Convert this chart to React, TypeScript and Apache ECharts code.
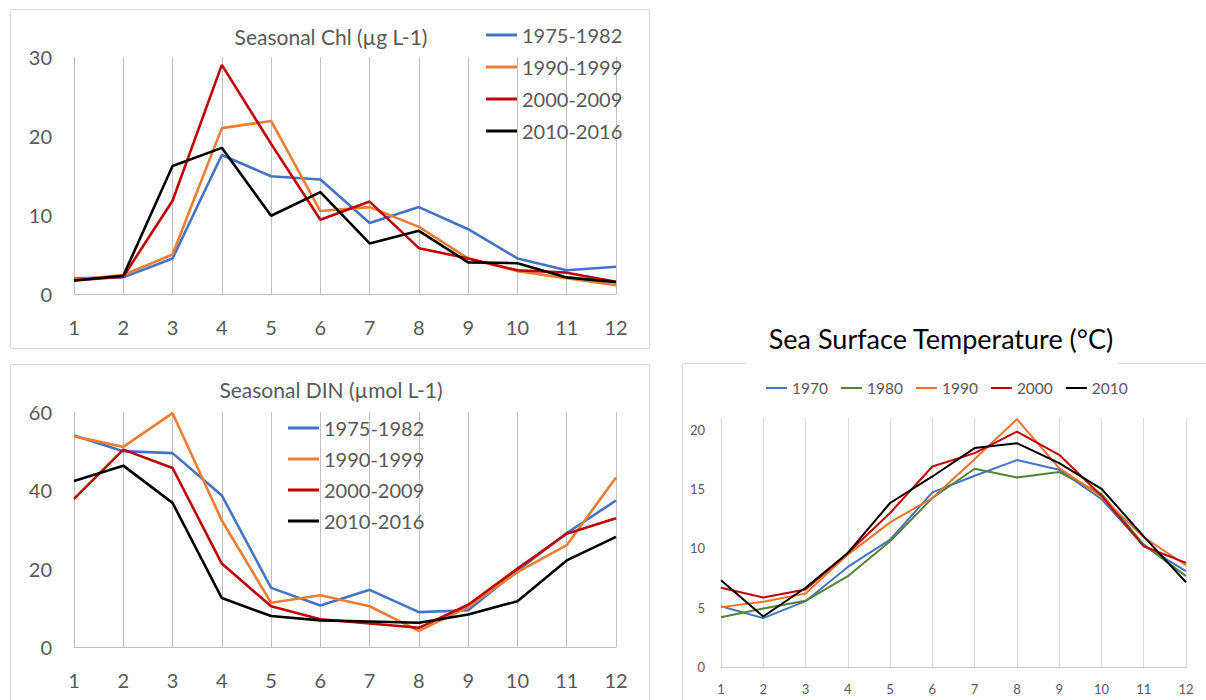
import React, { useEffect, useRef } from "react";
import * as echarts from "echarts";

const months = ["1", "2", "3", "4", "5", "6", "7", "8", "9", "10", "11", "12"];

const periodNames = ["1975-1982", "1990-1999", "2000-2009", "2010-2016"];
const periodColors = ["#4472C4", "#ED7D31", "#C00000", "#000000"];

const chl1975 = [2.0, 2.1, 4.5, 17.6, 14.9, 14.5, 9.0, 11.0, 8.2, 4.5, 3.0, 3.45];
const chl1990 = [1.8, 2.4, 5.0, 21.0, 21.9, 10.5, 11.0, 8.5, 4.5, 2.9, 2.0, 1.1];
const chl2000 = [1.7, 2.2, 11.8, 29.0, 19.0, 9.4, 11.7, 5.8, 4.5, 3.0, 2.7, 1.55];
const chl2010 = [1.7, 2.3, 16.2, 18.5, 9.9, 12.9, 6.4, 8.0, 4.0, 3.9, 2.1, 1.5];

const din1975 = [54.0, 50.0, 49.5, 38.7, 15.1, 10.6, 14.6, 8.9, 9.4, 19.5, 29.1, 37.4];
const din1990 = [53.8, 51.1, 59.7, 32.3, 11.3, 13.2, 10.4, 4.1, 10.2, 19.1, 26.0, 43.3];
const din2000 = [37.8, 50.4, 45.7, 21.3, 10.4, 7.1, 6.0, 4.9, 10.8, 20.0, 28.9, 32.9];
const din2010 = [42.4, 46.3, 36.8, 12.5, 7.9, 6.8, 6.5, 6.2, 8.3, 11.7, 22.1, 28.1];

const decadeNames = ["1970", "1980", "1990", "2000", "2010"];
const decadeColors = ["#4472C4", "#548235", "#F07427", "#C00000", "#000000"];

const sst1970 = [5.13, 4.12, 5.55, 8.44, 10.74, 14.73, 16.13, 17.45, 16.63, 14.17, 10.24, 8.08];
const sst1980 = [4.2, 4.94, 5.58, 7.66, 10.6, 14.25, 16.72, 15.99, 16.44, 14.61, 10.32, 7.66];
const sst1990 = [5.05, 5.5, 6.2, 9.48, 12.2, 14.25, 17.53, 20.9, 16.77, 14.39, 10.94, 8.58];
const sst2000 = [6.68, 5.86, 6.54, 9.62, 12.99, 16.91, 18.04, 19.86, 17.9, 14.45, 10.18, 8.78];
const sst2010 = [7.32, 4.26, 6.68, 9.62, 13.83, 16.07, 18.46, 18.88, 17.2, 15.03, 11.02, 7.15];

const chlSeries = [chl1975, chl1990, chl2000, chl2010];
const dinSeries = [din1975, din1990, din2000, din2010];
const sstSeries = [sst1970, sst1980, sst1990, sst2000, sst2010];

const FONT = "Lato, 'Open Sans', sans-serif";
const GREY = "#595959";

function xAxisFor(gridIndex: number, big: boolean) {
  return {
    type: "category",
    gridIndex,
    data: months,
    boundaryGap: false,
    axisTick: { show: false },
    axisLine: { show: true, lineStyle: { color: big ? "#bfbfbf" : "#c8c8c8", width: 1 } },
    splitLine: { show: true, lineStyle: { color: big ? "#bfbfbf" : "#d9d9d9", width: 1 } },
    axisLabel: {
      color: GREY,
      fontSize: big ? 20 : 13,
      fontFamily: FONT,
      margin: big ? 23 : 15,
    },
  };
}

function yAxisFor(gridIndex: number, max: number, interval: number, big: boolean) {
  return {
    type: "value",
    gridIndex,
    min: 0,
    max,
    interval,
    axisLine: { show: false },
    axisTick: { show: false },
    splitLine: { show: false },
    axisLabel: {
      color: GREY,
      fontSize: big ? 20 : 13,
      fontFamily: FONT,
      margin: big ? 22 : 16,
      showMaxLabel: max % interval === 0,
    },
  };
}

function lineSeries(name: string, data: number[], color: string, idx: number, width: number) {
  return {
    type: "line",
    name,
    data,
    xAxisIndex: idx,
    yAxisIndex: idx,
    symbol: "none",
    showSymbol: false,
    lineStyle: { color, width },
    itemStyle: { color },
  };
}

export default function App() {
  const ref = useRef<HTMLDivElement>(null);

  useEffect(() => {
    if (!ref.current) return;
    const chart = echarts.init(ref.current, null, { renderer: "svg" });

    const series: any[] = [];
    chlSeries.forEach((d, i) => series.push(lineSeries(periodNames[i], d, periodColors[i], 0, 2.6)));
    dinSeries.forEach((d, i) => series.push(lineSeries(periodNames[i], d, periodColors[i], 1, 2.6)));
    sstSeries.forEach((d, i) => series.push(lineSeries(decadeNames[i], d, decadeColors[i], 2, 2)));

    const option: any = {
      animation: false,
      backgroundColor: "#ffffff",
      textStyle: { fontFamily: FONT },
      grid: [
        { left: 74, top: 57, width: 542, height: 237 },
        { left: 74, top: 412, width: 542, height: 235 },
        { left: 721, top: 418, width: 465, height: 249 },
      ],
      xAxis: [xAxisFor(0, true), xAxisFor(1, true), xAxisFor(2, false)],
      yAxis: [yAxisFor(0, 30, 10, true), yAxisFor(1, 60, 20, true), yAxisFor(2, 21, 5, false)],
      legend: [
        {
          orient: "vertical",
          left: 486,
          top: 25,
          padding: 0,
          itemWidth: 31,
          itemHeight: 3,
          itemGap: 12,
          icon: "rect",
          data: periodNames,
          selectedMode: false,
          textStyle: { fontSize: 20, color: GREY, fontFamily: FONT, lineHeight: 20 },
        },
        {
          orient: "vertical",
          left: 288,
          top: 418,
          padding: 0,
          itemWidth: 31,
          itemHeight: 3,
          itemGap: 11,
          icon: "rect",
          data: periodNames,
          selectedMode: false,
          textStyle: { fontSize: 20, color: GREY, fontFamily: FONT, lineHeight: 20 },
        },
        {
          orient: "horizontal",
          left: 766,
          top: 380,
          padding: 0,
          itemWidth: 21,
          itemHeight: 2,
          itemGap: 13,
          icon: "rect",
          data: decadeNames,
          selectedMode: false,
          textStyle: { fontSize: 15.5, color: GREY, fontFamily: FONT, lineHeight: 16 },
        },
      ],
      graphic: [
        {
          type: "rect",
          shape: { x: 10.5, y: 9.5, width: 639, height: 339 },
          style: { fill: "none", stroke: "#d9d9d9", lineWidth: 1 },
          silent: true,
        },
        {
          type: "rect",
          shape: { x: 10.5, y: 364.5, width: 639, height: 400 },
          style: { fill: "none", stroke: "#d9d9d9", lineWidth: 1 },
          silent: true,
        },
        {
          type: "polyline",
          shape: { points: [[746, 363.5], [682.5, 363.5], [682.5, 710]] },
          style: { fill: "none", stroke: "#d9d9d9", lineWidth: 1 },
          silent: true,
        },
        {
          type: "line",
          shape: { x1: 1118, y1: 363.5, x2: 1210, y2: 363.5 },
          style: { stroke: "#d9d9d9", lineWidth: 1 },
          silent: true,
        },
        {
          type: "text",
          x: 331,
          y: 36,
          style: {
            text: "Seasonal Chl (µg L-1)",
            textAlign: "center",
            textVerticalAlign: "middle",
            fontSize: 21,
            fill: GREY,
            fontFamily: FONT,
          },
        },
        {
          type: "text",
          x: 331,
          y: 389,
          style: {
            text: "Seasonal DIN (µmol L-1)",
            textAlign: "center",
            textVerticalAlign: "middle",
            fontSize: 21,
            fill: GREY,
            fontFamily: FONT,
          },
        },
        {
          type: "text",
          x: 941,
          y: 338,
          style: {
            text: "Sea Surface Temperature (°C)",
            textAlign: "center",
            textVerticalAlign: "middle",
            fontSize: 27,
            fill: "#000000",
            fontFamily: FONT,
          },
        },
      ],
      series,
    };

    chart.setOption(option);
    return () => chart.dispose();
  }, []);

  return (
    <div
      ref={ref}
      style={{ position: "absolute", left: 0, top: 0, width: 1206, height: 700, background: "#fff" }}
    />
  );
}
